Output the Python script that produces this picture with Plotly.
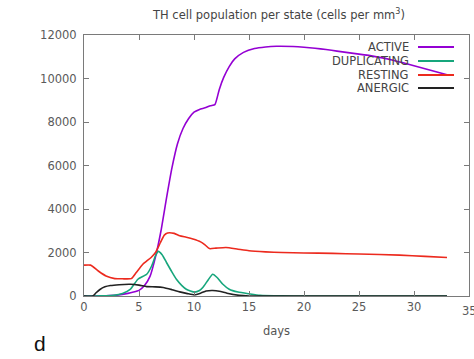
import plotly.graph_objects as go

# ---- data ----
active_t = [0, 1, 2, 3, 4, 4.5, 5, 5.5, 6, 6.5, 7, 7.5, 8, 8.5, 9, 9.5, 10, 10.5, 11, 11.5, 11.9,
            12.3, 12.7, 13.2, 13.7, 14.5, 15.5, 16.5, 17.5, 19, 20, 21, 22, 23, 24, 25, 26, 27,
            28, 29, 30, 31, 32, 33]
active_v = [0, 0, 10, 40, 120, 180, 260, 480, 900, 1800, 3000, 4500, 5900, 7000, 7700, 8150, 8450,
            8580, 8650, 8750, 8800, 9500, 10050, 10550, 10900, 11200, 11380, 11450, 11480, 11470,
            11440, 11390, 11330, 11260, 11190, 11120, 11050, 10960, 10850, 10720, 10590, 10450,
            10310, 10170]

dup_t = [0, 1, 2, 2.7, 3.5, 4.2, 4.9, 5.7, 6.15, 6.5, 6.75, 7.1, 7.5, 8.0, 8.4, 8.9, 9.3, 10.05,
         10.5, 10.8, 11.3, 11.7, 12.1, 12.6, 13.2, 14, 15, 16, 18, 20, 25, 30, 33]
dup_v = [0, 0, 10, 30, 120, 300, 770, 1000, 1380, 1850, 2050, 1900, 1540, 1100, 770, 480, 310, 180,
         250, 390, 750, 1000, 850, 550, 310, 180, 100, 30, 5, 0, 0, 0, 0]

rest_t = [0, 0.6, 1.3, 2.0, 2.8, 3.5, 4.3, 4.75, 5.35, 6.1, 6.5, 6.95, 7.3, 7.6, 8.2, 8.7, 9.3, 9.9,
          10.6, 11.0, 11.4, 12.0, 12.9, 14, 15, 16.5, 18, 20, 22.6, 25, 28.7, 31, 33]
rest_v = [1420, 1420, 1150, 920, 800, 790, 800, 1080, 1460, 1770, 2000, 2460, 2800, 2900, 2880,
          2770, 2700, 2620, 2490, 2350, 2180, 2200, 2230, 2150, 2080, 2030, 2000, 1980, 1960, 1930,
          1880, 1820, 1770]

anerg_t = [0, 0.8, 1.1, 1.45, 1.9, 2.4, 3.2, 4.2, 5.0, 5.7, 6.5, 7.2, 8.0, 8.7, 9.4, 10.05, 10.6,
           11.1, 11.7, 12.3, 13.0, 14.1, 15, 20, 25, 30, 33]
anerg_v = [0, 0, 150, 300, 420, 480, 520, 540, 500, 430, 420, 390, 290, 190, 110, 50, 130, 230, 250,
           220, 130, 30, 0, 0, 0, 0, 0]

series_names = ["ACTIVE", "DUPLICATING", "RESTING", "ANERGIC"]
series_colors = ["#9400d3", "#17a67c", "#ec2a1e", "#222222"]
series_t = [active_t, dup_t, rest_t, anerg_t]
series_v = [active_v, dup_v, rest_v, anerg_v]

x_ticks = [0, 5, 10, 15, 20, 25, 30, 35]
x_labels = ["0", "5", "10", "15", "20", "25", "30", "35"]
y_ticks = [0, 2000, 4000, 6000, 8000, 10000, 12000]
y_labels = ["0", "2000", "4000", "6000", "8000", "10000", "12000"]

W, H = 474, 359
L, R, T, B = 84, 5, 35, 63

fig = go.Figure()
for name, col, t, v in zip(series_names, series_colors, series_t, series_v):
    fig.add_trace(go.Scatter(x=t, y=v, mode="lines", name=name,
                             line=dict(color=col, width=1.6, shape="spline", smoothing=0.5),
                             showlegend=False))

axis_col = "#7a7a7a"
tick_font = dict(family="DejaVu Sans", size=11.5, color="#5a5a5a")

fig.update_layout(
    width=W, height=H,
    margin=dict(l=L, r=R, t=T, b=B),
    paper_bgcolor="white", plot_bgcolor="white",
    font=dict(family="DejaVu Sans", color="#555555"),
    title=dict(text="TH cell population per state (cells per mm<sup>3</sup>)",
               x=279 / W, xanchor="center", y=1 - 15 / H, yanchor="middle",
               font=dict(family="DejaVu Sans", size=11.5, color="#444444")),
    xaxis=dict(range=[0, 35], tickvals=x_ticks[:-1], ticktext=x_labels[:-1], ticks="inside",
               ticklen=5, tickcolor=axis_col, showline=True, linecolor=axis_col, linewidth=1,
               mirror="ticks", showgrid=False, zeroline=False, tickfont=tick_font,
               title=dict(text="days", font=dict(family="DejaVu Sans", size=11.5, color="#555555"),
                          standoff=14)),
    yaxis=dict(range=[0, 12000], tickvals=y_ticks, ticktext=y_labels, ticks="inside", ticklen=5,
               tickcolor=axis_col, showline=True, linecolor=axis_col, linewidth=1, mirror="ticks",
               showgrid=False, zeroline=False, tickfont=tick_font, ticklabelstandoff=4),
)

plot_w = W - L - R
plot_h = H - T - B

# last x tick label (clipped by the page edge as in the reference)
fig.add_annotation(x=x_ticks[-1], y=(H - B - 311) / plot_h, xref="x", yref="paper",
                   text=x_labels[-1], showarrow=False, xanchor="center", yanchor="middle",
                   font=tick_font)

# gnuplot-style legend (text right-aligned, sample line on the right)
leg_y = [47, 61, 75, 88]
for name, col, py in zip(series_names, series_colors, leg_y):
    yp = (H - B - py) / plot_h
    fig.add_annotation(x=(411 - L) / plot_w, y=yp, xref="paper", yref="paper",
                       text=name, showarrow=False, xanchor="right", yanchor="middle",
                       font=dict(family="DejaVu Sans", size=11.5, color="#444444"))
    fig.add_shape(type="line", xref="paper", yref="paper",
                  x0=(418 - L) / plot_w, x1=(454 - L) / plot_w, y0=yp, y1=yp,
                  line=dict(color=col, width=1.8))

fig.add_annotation(x=(40 - L) / plot_w, y=(H - B - 343) / plot_h, xref="paper", yref="paper",
                   text="d", showarrow=False, xanchor="center", yanchor="middle",
                   font=dict(family="Liberation Sans", size=21, color="#111111"))

fig.write_html("out.html")
